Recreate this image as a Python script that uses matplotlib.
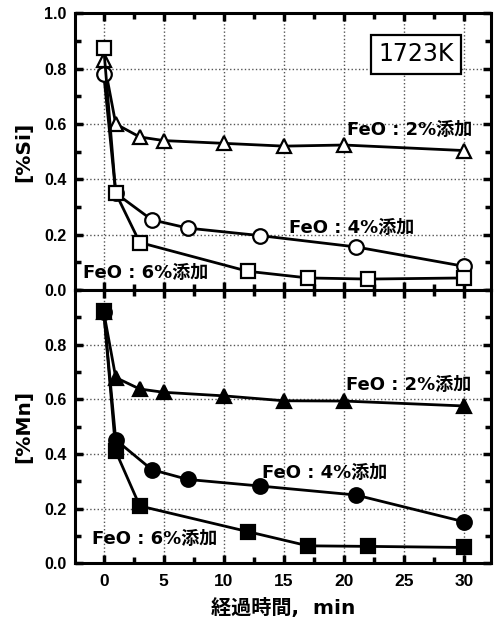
import matplotlib
matplotlib.use("Agg")
import matplotlib.pyplot as plt
from matplotlib.ticker import MultipleLocator

plt.rcParams['font.family'] = ['Liberation Sans', 'Noto Sans CJK JP']
plt.rcParams['font.weight'] = 'bold'

# time, min
t_2 = [0, 1, 3, 5, 10, 15, 20, 30]
t_4 = [0, 1, 4, 7, 13, 21, 30]
t_6 = [0, 1, 3, 12, 17, 22, 30]

# [%Si]
si_2 = [0.83, 0.60, 0.553, 0.54, 0.53, 0.52, 0.524, 0.504]
si_4 = [0.78, 0.35, 0.254, 0.224, 0.197, 0.156, 0.086]
si_6 = [0.875, 0.35, 0.172, 0.068, 0.044, 0.04, 0.044]

# [%Mn]
mn_2 = [0.92, 0.68, 0.638, 0.626, 0.613, 0.595, 0.594, 0.576]
mn_4 = [0.92, 0.452, 0.343, 0.307, 0.283, 0.25, 0.152]
mn_6 = [0.925, 0.41, 0.21, 0.116, 0.064, 0.062, 0.058]

labels = ['FeO : 2%添加', 'FeO : 4%添加', 'FeO : 6%添加']

WIDE = ['DejaVu Sans', 'Noto Sans CJK JP']


def style_axes(ax):
    ax.set_xlim(-2.4, 32.2)
    ax.set_ylim(0, 1.0)
    ax.xaxis.set_major_locator(MultipleLocator(5))
    ax.xaxis.set_minor_locator(MultipleLocator(2.5))
    ax.yaxis.set_major_locator(MultipleLocator(0.2))
    ax.yaxis.set_minor_locator(MultipleLocator(0.1))
    ax.tick_params(which='both', direction='in', top=True, right=True, width=2.5)
    ax.tick_params(which='major', length=6)
    ax.tick_params(which='minor', length=4)
    ax.tick_params(axis='x', labelsize=12.5, pad=8)
    ax.tick_params(axis='y', labelsize=11.5, pad=6)
    ax.grid(True, which='major', linestyle=':', color='#555555', linewidth=1)
    for s in ax.spines.values():
        s.set_linewidth(2.2)


def draw_series(ax, t, y, marker, filled):
    face = 'black' if filled else 'white'
    ax.plot(t, y, color='black', linewidth=2.0, marker=marker, markersize=10.5,
            markerfacecolor=face, markeredgecolor='black', markeredgewidth=1.6,
            zorder=3)


def label(ax, x, y, s):
    ax.text(x, y, s, fontsize=13, fontweight='bold', va='center', family=WIDE)


fig = plt.figure(figsize=(4.96, 6.28), dpi=100)
ax1 = fig.add_axes([0.151, 0.538, 0.838, 0.441])
ax2 = fig.add_axes([0.151, 0.103, 0.838, 0.435])

# top panel: Si
draw_series(ax1, t_2, si_2, '^', False)
draw_series(ax1, t_4, si_4, 'o', False)
draw_series(ax1, t_6, si_6, 's', False)
style_axes(ax1)
ax1.set_yticks([0.0, 0.2, 0.4, 0.6, 0.8, 1.0])
ax1.set_yticklabels(['0.0', '0.2', '0.4', '0.6', '0.8', '1.0'], fontweight='bold')
ax1.tick_params(axis='x', labelbottom=False)
ax1.set_ylabel('[%Si]', fontsize=14.5, fontweight='bold', labelpad=8, family=WIDE)
label(ax1, 20.25, 0.578, labels[0])
label(ax1, 15.4, 0.225, labels[1])
label(ax1, -1.75, 0.063, labels[2])
ax1.text(26.0, 0.852, '1723K', fontsize=17, fontweight='normal', ha='center', va='center',
         family=WIDE,
         bbox=dict(boxstyle='square,pad=0.32', facecolor='white', edgecolor='black', linewidth=1.6))

# bottom panel: Mn
draw_series(ax2, t_2, mn_2, '^', True)
draw_series(ax2, t_4, mn_4, 'o', True)
draw_series(ax2, t_6, mn_6, 's', True)
style_axes(ax2)
ax2.set_yticks([0.0, 0.2, 0.4, 0.6, 0.8])
ax2.set_yticklabels(['0.0', '0.2', '0.4', '0.6', '0.8'], fontweight='bold')
ax2.set_xticks([0, 5, 10, 15, 20, 25, 30])
ax2.set_xticklabels(['0', '5', '10', '15', '20', '25', '30'], fontweight='bold')
ax2.set_ylabel('[%Mn]', fontsize=14.5, fontweight='bold', labelpad=8, family=WIDE)
ax2.set_xlabel('経過時間,  min', fontsize=14.5, fontweight='bold', labelpad=6, family=WIDE)
label(ax2, 20.2, 0.653, labels[0])
label(ax2, 13.2, 0.33, labels[1])
label(ax2, -1.0, 0.09, labels[2])

fig.savefig('out.png', dpi=100)
